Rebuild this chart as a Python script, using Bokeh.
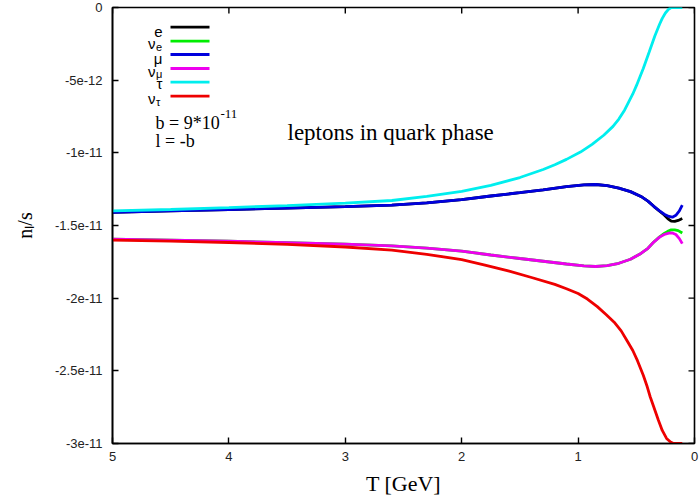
from bokeh.plotting import figure
from bokeh.models import Range1d, FixedTicker, Label
from bokeh.embed import file_html
from bokeh.resources import INLINE

# ---------------- data (values in units of 1e-11) ----------------
x_ticks = [5, 4, 3, 2, 1, 0]
y_ticks = [0, -0.5, -1, -1.5, -2, -2.5, -3]
y_tick_labels = ["0", "-5e-12", "-1e-11", "-1.5e-11", "-2e-11", "-2.5e-11", "-3e-11"]

T_mu = [5.0, 4.5, 4.0, 3.5, 3.0, 2.6, 2.3, 2.0, 1.75, 1.5, 1.3, 1.1, 0.95, 0.85, 0.75,
        0.65, 0.55, 0.46, 0.40, 0.35, 0.30, 0.26, 0.22, 0.19, 0.16, 0.13, 0.105]
n_mu = [-1.410, -1.400, -1.390, -1.380, -1.370, -1.360, -1.345, -1.322, -1.297, -1.274,
        -1.255, -1.233, -1.221, -1.218, -1.226, -1.243, -1.267, -1.300, -1.332, -1.368,
        -1.400, -1.422, -1.438, -1.443, -1.430, -1.400, -1.360]

T_e = [5.0, 4.5, 4.0, 3.5, 3.0, 2.6, 2.3, 2.0, 1.75, 1.5, 1.3, 1.1, 0.95, 0.85, 0.75,
       0.65, 0.55, 0.46, 0.40, 0.35, 0.30, 0.26, 0.23, 0.20, 0.17, 0.14, 0.105]
n_e = [-1.410, -1.400, -1.390, -1.380, -1.370, -1.360, -1.345, -1.322, -1.297, -1.274,
       -1.255, -1.233, -1.221, -1.218, -1.226, -1.243, -1.267, -1.300, -1.332, -1.368,
       -1.402, -1.428, -1.452, -1.470, -1.472, -1.465, -1.452]

T_tau = [5.0, 4.5, 4.0, 3.5, 3.0, 2.6, 2.3, 2.0, 1.75, 1.5, 1.3, 1.2, 1.1, 0.98, 0.88,
         0.78, 0.70, 0.65, 0.60, 0.566, 0.53, 0.498, 0.47, 0.44, 0.39, 0.34, 0.30, 0.277,
         0.25, 0.22, 0.20, 0.15, 0.105]
n_tau = [-1.400, -1.390, -1.377, -1.363, -1.346, -1.328, -1.300, -1.265, -1.224, -1.170,
         -1.115, -1.082, -1.045, -0.995, -0.942, -0.879, -0.818, -0.768, -0.705, -0.651,
         -0.595, -0.536, -0.480, -0.420, -0.308, -0.194, -0.115, -0.075, -0.038, -0.010,
         0.0, 0.0, 0.0]

T_nutau = [5.0, 4.5, 4.0, 3.5, 3.0, 2.6, 2.3, 2.0, 1.8, 1.6, 1.4, 1.2, 1.1, 1.0, 0.92,
           0.835, 0.76, 0.69, 0.63, 0.578, 0.53, 0.49, 0.44, 0.406, 0.38, 0.349, 0.31,
           0.277, 0.24, 0.206, 0.18, 0.105]
n_nutau = [-1.600, -1.608, -1.617, -1.630, -1.648, -1.670, -1.698, -1.735, -1.772, -1.812,
           -1.858, -1.905, -1.935, -1.968, -2.006, -2.058, -2.112, -2.165, -2.225, -2.295,
           -2.360, -2.430, -2.530, -2.610, -2.680, -2.750, -2.840, -2.910, -2.965, -2.990,
           -3.0, -3.0]

T_numu = [5.0, 4.5, 4.0, 3.5, 3.0, 2.6, 2.3, 2.0, 1.75, 1.5, 1.3, 1.1, 0.95, 0.85, 0.75,
          0.65, 0.55, 0.46, 0.40, 0.35, 0.30, 0.26, 0.22, 0.19, 0.16, 0.13, 0.105]
n_numu = [-1.594, -1.600, -1.608, -1.618, -1.628, -1.640, -1.655, -1.677, -1.703, -1.727,
          -1.746, -1.765, -1.778, -1.782, -1.776, -1.760, -1.732, -1.692, -1.657, -1.614,
          -1.580, -1.562, -1.552, -1.551, -1.562, -1.590, -1.625]

T_nue = [5.0, 4.5, 4.0, 3.5, 3.0, 2.6, 2.3, 2.0, 1.75, 1.5, 1.3, 1.1, 0.95, 0.85, 0.75,
         0.65, 0.55, 0.46, 0.40, 0.35, 0.30, 0.26, 0.23, 0.20, 0.17, 0.14, 0.105]
n_nue = [-1.594, -1.600, -1.608, -1.618, -1.628, -1.640, -1.655, -1.677, -1.703, -1.727,
         -1.746, -1.765, -1.778, -1.782, -1.776, -1.760, -1.732, -1.692, -1.657, -1.614,
         -1.578, -1.555, -1.540, -1.530, -1.530, -1.535, -1.552]

series = [
    ("e", T_e, n_e, "#000000"),
    ("nu_e", T_nue, n_nue, "#00ee00"),
    ("mu", T_mu, n_mu, "#0000dd"),
    ("nu_mu", T_numu, n_numu, "#ee00ee"),
    ("tau", T_tau, n_tau, "#00eeee"),
    ("nu_tau", T_nutau, n_nutau, "#ee0000"),
]

# ---------------- layout ----------------
W, H = 699, 499
FL, FR, FT, FB = 112, 5, 7, 56
FW, FH = W - FL - FR, H - FT - FB
X0, X1 = 5.0, 0.0
Y0, Y1 = -3.0, 0.0


def px_x(px):
    return X0 + (px - FL) * (X1 - X0) / FW


def px_y(py):
    return Y1 - (py - FT) * (Y1 - Y0) / FH


p = figure(width=W, height=H, x_range=Range1d(X0, X1), y_range=Range1d(Y0, Y1),
           output_backend="svg", toolbar_location=None,
           min_border_left=FL, min_border_right=FR, min_border_top=FT,
           min_border_bottom=FB)
p.grid.visible = False
p.outline_line_color = "#000000"
p.outline_line_width = 1.6
p.outline_line_alpha = 1.0
p.background_fill_color = "white"
p.border_fill_color = "white"

for ax in (p.xaxis[0], p.yaxis[0]):
    ax.major_tick_in = 6
    ax.major_tick_out = 0
    ax.minor_tick_line_color = None
    ax.axis_line_color = "#000000"
    ax.axis_line_width = 1.6
    ax.major_tick_line_color = "#000000"
    ax.major_tick_line_width = 1.4
    ax.major_label_text_font = "Liberation Sans"
    ax.major_label_text_font_size = "13px"
    ax.major_label_text_color = "#222222"
    ax.axis_label_text_font = "Liberation Serif"
    ax.axis_label_text_font_style = "normal"
    ax.axis_label_text_color = "black"

p.xaxis.ticker = FixedTicker(ticks=x_ticks)
p.xaxis.major_label_standoff = 8
p.xaxis.axis_label = "T [GeV]"
p.xaxis.axis_label_text_font_size = "22px"
p.xaxis.axis_label_standoff = 7

p.yaxis.ticker = FixedTicker(ticks=y_ticks)
p.yaxis.major_label_overrides = {float(k): v for k, v in zip(y_ticks, y_tick_labels)}
p.yaxis.major_label_standoff = 10
p.yaxis.axis_label = "n\u2097/s"
p.yaxis.axis_label_text_font_size = "20px"
p.yaxis.axis_label_standoff = 16

# mirrored inward ticks on top and right borders
tick_dy = 6 * (Y1 - Y0) / FH
tick_dx = 6 * (X1 - X0) / FW
p.segment(x0=x_ticks, x1=x_ticks, y0=[Y1] * len(x_ticks), y1=[Y1 - tick_dy] * len(x_ticks),
          line_color="#000000", line_width=1.4)
p.segment(x0=[X1] * len(y_ticks), x1=[X1 - tick_dx] * len(y_ticks), y0=y_ticks, y1=y_ticks,
          line_color="#000000", line_width=1.4)

for name, t, n, c in series:
    p.line(t, n, line_color=c, line_width=2.8)

# ---------------- key ----------------
key_rows = [26.7, 40.7, 54.0, 68.0, 81.7, 95.7]
key_colors = [s[3] for s in series]
p.segment(x0=[px_x(170)] * 6, x1=[px_x(209)] * 6,
          y0=[px_y(r) for r in key_rows], y1=[px_y(r) for r in key_rows],
          line_color=key_colors, line_width=2.8)

KF = "Liberation Sans"


def lab(px, py, txt, size, font=KF, align="right"):
    p.add_layout(Label(x=px_x(px), y=px_y(py), text=txt, text_font=font,
                       text_font_size=size, text_align=align,
                       text_baseline="alphabetic", text_color="black"))


lab(162, 31.5, "e", "15px")
lab(155, 42.7, "ν", "15px")
lab(155.5, 46.5, "e", "11px", align="left")
lab(162, 57.5, "μ", "15px")
lab(155, 70.7, "ν", "15px")
lab(155.5, 73.5, "μ", "11px", align="left")
lab(162, 83.3, "τ", "15px")
lab(155, 98.3, "ν", "15px")
lab(155.5, 101.7, "τ", "11px", align="left")

SF = "Liberation Serif"
lab(155, 122, "b = 9*10", "18px", font=SF, align="left")
lab(220, 113, "-11", "13px", font=SF, align="left")
lab(155, 140, "l = -b", "18px", font=SF, align="left")
lab(287, 131.5, "leptons in quark phase", "23px", font=SF, align="left")

open("out.html", "w").write(file_html(p, INLINE))
